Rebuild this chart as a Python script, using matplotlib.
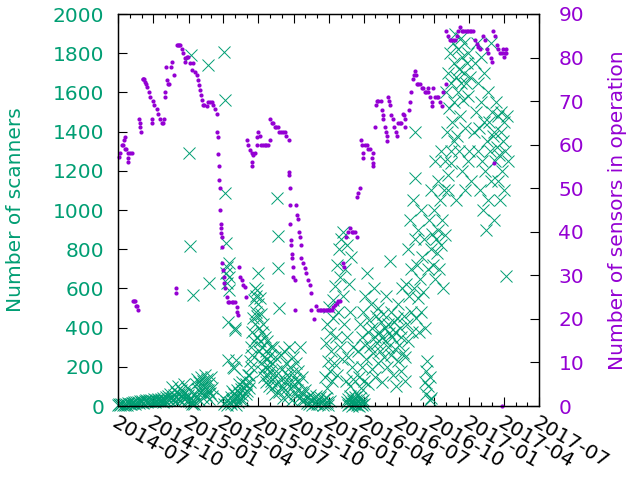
import numpy as np
import matplotlib
matplotlib.use('Agg')
import matplotlib.pyplot as plt
import matplotlib.dates as mdates

GREEN = '#009e73'
PURPLE = '#9400d3'
FONT_SIZE = 14.5

# day 0 = 2014-07-01
START = np.datetime64('2014-07-01')

# 観測されたスキャナー数 (day offset, count)
scan_day = [
    0, 3, 6, 9, 12, 15, 18, 21, 24, 27, 30, 33, 36, 39, 42, 45, 48, 51, 54, 57,
    60, 63, 66, 69, 72, 75, 78, 81, 84, 87, 90, 93, 96, 99, 102, 105, 108,
    111, 113, 116, 118, 121, 124, 126, 129, 131, 134, 136, 139, 141, 143, 146, 148,
    150, 152, 155, 157, 159, 162, 164, 166, 169, 171, 173, 175, 177, 179, 181, 183,
    185, 186, 187, 188, 189, 190, 192, 194, 196, 197, 199,
    200, 202, 204, 206, 208, 210, 212, 214, 216, 218, 220, 222, 224, 226, 228, 230,
    232, 234, 235, 236, 237, 238, 240, 242, 244, 246,
    274, 276, 277, 278, 279, 280, 281, 282, 283, 284, 285, 286, 287, 288, 289, 290,
    291, 293, 294, 296, 298, 300, 301, 302, 304, 305, 306, 307, 308, 309, 310, 312,
    314, 316, 318, 320, 322, 324, 326, 328, 330, 332, 334, 336, 338,
    340, 341, 343, 344, 346, 347, 349, 350, 352, 353, 355, 356, 357, 358, 360, 361,
    362, 363, 364, 365, 366, 367, 369, 370, 371, 372, 374, 375, 376, 378, 379, 380,
    382, 383, 385, 386, 387, 389, 390, 392, 393, 395, 396, 398, 399,
    400, 402, 404, 406, 408, 410, 412, 414, 415, 416, 417, 418, 420, 422, 424, 426,
    428, 430, 432, 434, 436, 438, 440, 442, 444, 446, 448, 450, 452, 454, 456, 458,
    460, 462, 464, 466, 468, 470, 472, 474, 476, 478, 480,
    482, 485, 488, 491, 494, 497, 500, 503, 506, 509, 512, 515, 518, 521, 524, 527,
    530, 533, 536, 539, 542, 545, 548, 551,
    539, 541, 543, 545, 547, 549, 551, 553, 555, 557, 559, 561, 563, 565, 567, 569,
    571, 573, 575, 577, 579, 581, 583, 585, 587, 589, 591, 593, 595, 597, 599, 601,
    603, 605, 607, 609, 611, 613,
    596, 598, 600, 602, 604, 606, 608, 610, 612, 614, 616, 618, 620, 622, 624, 626,
    628, 630, 632, 634, 636, 638, 640,
    626, 628, 630, 632, 634, 636, 638, 640, 642, 644, 646, 648, 650, 652, 654, 656,
    658, 660, 662, 664, 666, 668, 670, 672, 674, 676, 678, 680, 682, 684, 686, 688,
    690, 692, 694, 696, 698, 700, 702, 704, 706, 708, 710, 712, 714, 716, 718, 720,
    722, 724, 726, 728, 730, 732, 734, 736, 738, 740, 742, 744, 746,
    748, 750, 752, 754, 756, 758, 760, 762, 764, 766, 768, 770, 772, 773, 774, 776,
    778, 780, 782, 784, 786, 788, 790, 792, 794, 796, 798, 800, 801, 803, 805, 807,
    808, 810, 811, 812, 814, 815, 816, 818, 820, 822, 824, 826, 828, 830, 832, 834,
    836, 838, 840, 842, 844, 846, 848, 850,
    852, 854, 856, 858, 860, 862, 864, 866, 868, 870, 872, 874, 876, 878, 880, 882,
    884, 886, 888, 890, 892, 894, 896, 898, 900, 902, 904, 906, 908, 910, 912, 914,
    916, 858, 866, 874, 880, 888, 896, 904, 912, 920, 926,
    930, 932, 934, 936, 938, 940, 942, 944, 946, 948, 950, 952, 954, 956, 958, 960,
    962, 964, 966, 968, 970, 972, 974, 976, 978, 980, 982, 984, 986, 988, 990, 992,
    994, 996, 998, 1000, 1002, 1004, 1006, 1008, 1010, 1012, 1014,
]
scan_val = [
    5, 8, 3, 10, 6, 12, 4, 9, 7, 14, 11, 8, 16, 13, 20, 10, 18, 22, 15, 25,
    19, 28, 17, 24, 30, 21, 27, 33, 23, 29, 26, 35, 20, 31, 28, 38, 24,
    28, 35, 22, 40, 30, 45, 25, 38, 52, 30, 60, 42, 95, 35, 55, 28,
    70, 45, 100, 38, 62, 30, 80, 50, 40, 110, 65, 35, 48, 90, 30, 55,
    25, 1290, 40, 816, 1791, 20, 10, 15, 566, 8, 25,
    60, 110, 45, 140, 85, 30, 120, 70, 150, 95, 40, 130, 75, 160, 55, 100,
    140, 80, 1740, 629, 35, 115, 65, 150, 90, 50,
    40, 10, 1805, 1561, 1087, 832, 679, 25, 711, 628, 5, 430, 235, 592, 728, 660,
    20, 45, 8, 75, 30, 200, 194, 60, 388, 396, 235, 40, 5, 80, 50, 20,
    65, 110, 35, 85, 55, 120, 30, 90, 140, 60, 110, 75, 160,
    90, 160, 230, 120, 300, 200, 380, 260, 450, 330, 540, 420, 600, 480, 560, 350,
    590, 460, 677, 520, 280, 400, 550, 330, 220, 470, 380, 180, 300, 420, 250, 150,
    350, 200, 280, 120, 240, 330, 160, 200, 100, 260, 180, 130, 300,
    220, 90, 300, 150, 60, 250, 180, 110, 1061, 867, 704, 500, 70, 140, 260, 100,
    190, 40, 280, 130, 80, 220, 160, 50, 300, 120, 200, 90, 30, 170, 250, 110,
    60, 140, 220, 80, 180, 40, 120, 300, 70, 150, 30,
    60, 30, 80, 15, 45, 10, 55, 25, 5, 40, 15, 50, 8, 30, 10, 45,
    20, 5, 35, 12, 40, 18, 5, 28,
    150, 320, 90, 420, 230, 505, 180, 370, 280, 130, 450, 540, 220, 610, 350, 720,
    160, 480, 800, 300, 660, 850, 240, 560, 890, 420, 700, 130, 820, 350, 250, 620,
    100, 480, 760, 200, 300, 140,
    20, 5, 35, 10, 50, 15, 0, 40, 25, 8, 45, 12, 30, 5, 55, 18,
    2, 40, 10, 25, 5, 30, 12,
    280, 150, 420, 90, 350, 200, 480, 130, 310, 560, 240, 680, 380, 110, 440, 300,
    520, 190, 400, 270, 600, 350, 150, 460, 320, 220, 500, 380, 280, 430, 120, 350,
    470, 250, 400, 330, 560, 200, 420, 300, 370, 740, 260, 480, 350, 160, 430, 290,
    380, 100, 450, 230, 520, 310, 400, 180, 350, 600, 270, 460, 130,
    250, 620, 420, 800, 330, 560, 950, 480, 700, 380, 1050, 600, 1163, 1400, 850, 450,
    720, 550, 900, 380, 650, 1000, 480, 760, 580, 850, 400, 120, 60, 180, 230, 100,
    700, 950, 150, 30, 800, 40, 1100, 880, 720, 1000, 650, 1250, 850, 780, 1150, 900,
    700, 1050, 820, 1300, 950, 600, 1100, 870,
    1250, 1600, 1400, 1180, 1700, 1520, 1800, 1300, 1650, 1450, 1850, 1750, 1550, 1900, 1680, 1380,
    1820, 1600, 1720, 1480, 1880, 1650, 1780, 1560, 1700, 1850, 1420, 1650, 1750, 1580, 1800, 1300,
    1680, 1100, 1240, 1350, 1050, 1300, 1200, 1100, 1250, 1150, 1400,
    1750, 1500, 1850, 1300, 1650, 1420, 1100, 1780, 1550, 1250, 1000, 1700, 1450, 1200, 900, 1350,
    1600, 1050, 1450, 1300, 1850, 1150, 1500, 1380, 950, 1400, 1250, 1550, 1320, 1150, 1480, 1280,
    1050, 1400, 1500, 1200, 1350, 1450, 1100, 1300, 663, 1480, 1250,
]

# 稼働センサー数 (day offset, count)
sens_day = [
    2, 6, 10, 12, 15, 17, 19, 22, 25, 26, 27, 32, 36,
    38, 42, 45, 48, 50, 52,
    54, 56, 58, 60,
    64, 66, 68, 70, 72, 76, 80, 84, 88, 89, 92, 94, 101, 105, 110, 114, 117, 119,
    122, 123, 125, 127, 130, 133, 139, 141, 146, 150, 152, 154, 157, 160, 162, 167,
    169, 174, 175,
    179, 183, 187, 192, 196, 200, 205, 207, 211, 213, 216, 219, 222, 225, 231, 235,
    239, 244, 248, 252, 257,
    259, 260, 261, 263, 264, 265, 266, 267, 268, 269, 270, 271, 272, 274, 276, 277,
    279, 283, 286, 290, 296, 300, 305, 309, 311, 313,
    314, 318, 322, 326, 331, 333,
    335, 339, 344, 348, 349, 350, 352, 357, 361, 362, 365,
    369, 373, 377, 382, 386, 390, 395, 397, 401, 404, 408, 412, 416, 420, 425, 430,
    434, 438, 444,
    445, 446, 447, 448, 449, 450, 451, 452, 453, 455, 456, 460, 461,
    464, 467, 468, 470, 473, 476, 477, 482, 486, 490, 495, 499, 502, 503, 510, 516,
    521, 525, 529, 533, 537, 541, 545, 549, 553, 557, 561, 565, 569, 573, 578,
    586, 588, 593, 599, 604, 608, 612, 617, 621, 622, 626, 631,
    633, 634, 638, 639, 643, 647, 652, 656, 660, 663, 664, 665,
    669, 671, 674, 678, 684, 686, 689, 691, 695, 698, 699, 700, 704, 706, 708, 712,
    715, 718, 723, 727, 730, 734, 738, 743, 744, 747, 748,
    758, 760, 764, 767, 770, 773, 776, 779, 782, 786, 791, 795, 799, 803, 807, 808,
    812, 817, 818, 821, 825, 830, 834, 838, 843, 847, 854,
    855, 860, 864, 868, 873, 877, 882, 886, 890, 895, 899, 904, 908, 912, 916, 920,
    925, 929, 934, 938, 942, 949, 955, 960, 964, 970, 973, 977, 979, 981, 986, 990,
    994, 999, 1000, 1003, 1004, 1008, 1010, 1011,
]
sens_val = [
    57.2, 58, 60, 60, 61, 61.8, 59, 59, 58, 57, 56, 58, 58,
    24, 24, 24, 23, 23, 22,
    66, 65, 64, 63,
    75, 75, 75, 74.5, 74, 73.3, 72.2, 71, 66, 65, 70, 69, 68.2, 67, 66, 65, 65, 66,
    71, 72, 77.9, 74.8, 74, 74, 77.9, 79, 76, 27, 26, 82.9, 82.9, 82.9, 82.9, 81.9,
    81, 80, 79,
    80.2, 80.2, 78.7, 77.1, 78.7, 76.7, 76, 74.8, 73.7, 72.5, 71.4, 70.2, 69.1, 69.1, 68.9, 69.9,
    69.9, 69.9, 69.1, 68.1, 67,
    63, 61.8, 57.9, 55, 51.9, 50, 45, 41.9, 40.8, 39.8, 38.9, 36.6, 32.8, 31.2, 29.7, 28.2,
    27, 25.1, 23.9, 23.9, 23.9, 23.9, 23.9, 22.8, 21.6, 20.9,
    32, 29.7, 28.9, 27.8, 27.4, 25.1,
    61, 60, 58.8, 58, 56, 55, 57.6, 58, 60, 61.8, 63,
    62, 60, 60, 60, 60, 60, 66, 61, 64.9, 64.9, 64, 64, 64, 63, 63, 63,
    63, 62, 61,
    53.8, 53, 50, 46.1, 41.9, 38.1, 37, 35, 33.9, 32, 29.7, 28.9, 22,
    46.1, 43.8, 42.9, 40, 38.9, 37, 33.9, 32.8, 31.7, 30.5, 28.9, 27.8, 25.9, 22, 19.9, 23,
    22, 22, 22, 22, 22, 22, 22, 22, 22, 22, 22.8, 23.2, 23.6, 24, 24,
    32.8, 32, 38.9, 40, 40.8, 40, 40, 40, 38.9, 48, 49, 50,
    61, 60, 58, 57, 60, 60, 59, 59, 56.9, 55.7, 55, 58,
    64.1, 69.1, 70.1, 70.1, 70.1, 68, 66.8, 65.8, 64, 63, 62, 60.9, 71, 70.1, 69.1, 66.8,
    65.8, 64, 63, 62, 64.9, 64.9, 64.9, 67, 66.8, 66, 64,
    68, 69.9, 72, 75, 76, 77, 76, 73.9, 73.9, 73.9, 72.9, 72.9, 72, 72, 72.9, 72,
    71, 69.9, 68.9, 72.9, 70.9, 70.9, 70.9, 69.9, 68.9, 72, 73.9,
    86, 84.9, 84, 84, 84, 84, 85, 86, 87.1, 86, 86, 86, 86, 86, 86, 86,
    86, 84, 83.2, 82.5, 81.9, 84.9, 84, 81.9, 81, 79.8, 79, 86, 55.9, 84.9, 82.9, 81.9,
    81, 81, 0, 81.9, 80.1, 81, 81.9, 81,
]


def _to_dates(days):
    return START + np.array(days).astype('timedelta64[D]')


fig = plt.figure(figsize=(6.37, 4.8), dpi=100)
ax = fig.add_axes([118 / 637, 74 / 480, 421 / 637, 392 / 480])
ax2 = ax.twinx()

ax.plot(_to_dates(scan_day), scan_val, linestyle='none', marker='x',
        markersize=8.6, markeredgewidth=0.7, color=GREEN, clip_on=False)
ax2.plot(_to_dates(sens_day), sens_val, linestyle='none', marker='o',
         markersize=3.0, markeredgewidth=0, color=PURPLE, clip_on=False)

ax.set_xlim(np.datetime64('2014-07-01'), np.datetime64('2017-07-01'))
ax.set_ylim(0, 2000)
ax2.set_ylim(0, 90)

ax.xaxis.set_major_locator(mdates.MonthLocator(bymonth=[1, 4, 7, 10]))
ax.xaxis.set_minor_locator(mdates.MonthLocator())
ax.xaxis.set_major_formatter(mdates.DateFormatter('%Y-%m'))
ax.set_yticks(np.arange(0, 2001, 200))
ax2.set_yticks(np.arange(0, 91, 10))

ax.tick_params(axis='x', which='major', direction='in', top=True, length=6.5,
               width=0.8, labelsize=FONT_SIZE, pad=5)
ax.tick_params(axis='x', which='minor', direction='in', top=True, length=3.2, width=0.8)
ax.tick_params(axis='y', direction='in', length=6.5, width=0.8, labelsize=FONT_SIZE,
               labelcolor=GREEN, pad=10)
ax2.tick_params(axis='y', direction='in', length=6.5, width=0.8, labelsize=FONT_SIZE,
                labelcolor=PURPLE, pad=14)

for lab in ax.get_xticklabels():
    lab.set_rotation(-30)
    lab.set_ha('left')
    lab.set_va('top')
    lab.set_rotation_mode('anchor')

for a in (ax, ax2):
    for s in a.spines.values():
        s.set_linewidth(0.9)

ax.set_ylabel('Number of scanners', color=GREEN, fontsize=FONT_SIZE)
ax.yaxis.set_label_coords(-0.221, 0.5)
ax2.set_ylabel('Number of sensors in operation', color=PURPLE, fontsize=FONT_SIZE)
ax2.yaxis.set_label_coords(1.164, 0.5)

fig.savefig('out.png', dpi=100)
